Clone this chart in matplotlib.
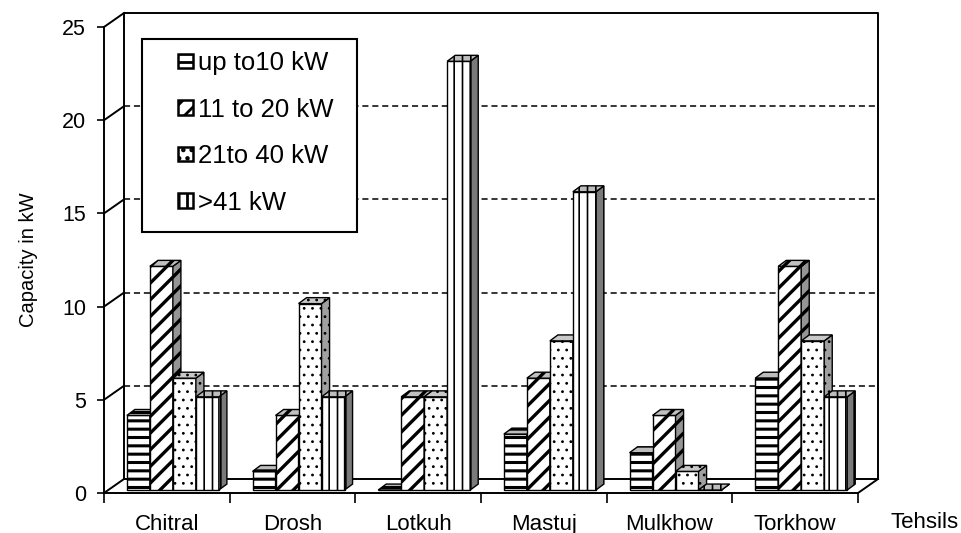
import matplotlib
matplotlib.use('Agg')
import matplotlib.pyplot as plt
from matplotlib.patches import Polygon, Patch, Rectangle

plt.rcParams['font.family'] = ['Liberation Sans', 'DejaVu Sans']
plt.rcParams['hatch.linewidth'] = 2.0

tehsils = ['Chitral', 'Drosh', 'Lotkuh', 'Mastuj', 'Mulkhow', 'Torkhow']
ranges = ['up to10 kW', '11 to 20 kW', '21to 40 kW', '>41 kW']
up_to_10 = [4, 1, 0, 3, 2, 6]
kw_11_20 = [12, 4, 5, 6, 4, 12]
kw_21_40 = [6, 10, 5, 8, 1, 8]
over_41 = [5, 5, 23, 16, 0, 5]
series = [up_to_10, kw_11_20, kw_21_40, over_41]
yticks = [0, 5, 10, 15, 20, 25]

hatches = ['--', '//', '..', '||']
hatch_lws = [2.2, 2.4, 0.8, 1.2]
side_cols = ['#858585', '#959595', '#a0a0a0', '#7a7a7a']
top_cols = ['#bdbdbd', '#c0c0c0', '#c8c8c8', '#bdbdbd']


def set_hlw(p, lw):
    # per-patch hatch width if this matplotlib has it
    if hasattr(p, 'set_hatch_linewidth'):
        p.set_hatch_linewidth(lw)


fig = plt.figure(figsize=(9.62, 5.33), dpi=100)
ax = fig.add_axes([104/962, 40/533, 754/962, 466/533])
ax.set_xlim(0, 6)
ax.set_ylim(0, 25)

n = len(tehsils)
DX, DY = 0.159, 0.75      # depth of the walls, in data units
BDX, BDY = 0.064, 0.32    # depth of a bar
FDX, FDY = 0.032, 0.16    # bar front, set back from the front plane
W = 0.183                 # bar width
G = 0.15                  # gap before the first bar of a group

# walls
k = dict(color='black', lw=1.4, clip_on=False, zorder=2)
ax.plot([DX, DX, n+DX, n+DX], [DY, 25+DY, 25+DY, DY], **k)
ax.plot([DX, n+DX], [DY, DY], **k)
ax.plot([n, n+DX], [0, DY], **k)
for v in yticks:
    ax.plot([0, DX], [v, v+DY], **k)
for v in yticks[1:-1]:
    ax.plot([DX, n+DX], [v+DY, v+DY], color='black', lw=1.1,
            ls=(0, (4, 2.5)), clip_on=False, zorder=1)

# bars
for i in range(n):
    for j, vals in enumerate(series):
        h = vals[i]
        x0 = i + G + j*W + FDX
        y0 = FDY
        z = 3 + i*10 + j*2
        bars = ax.bar(x0, h, W, bottom=y0, align='edge', color='white',
                      edgecolor='black', hatch=hatches[j], lw=1.0, zorder=z,
                      clip_on=False)
        set_hlw(bars[0], hatch_lws[j])
        side = Polygon([(x0+W, y0), (x0+W+BDX, y0+BDY),
                        (x0+W+BDX, y0+h+BDY), (x0+W, y0+h)],
                       facecolor=side_cols[j], edgecolor='black', lw=1.0,
                       hatch=hatches[j], zorder=z+1, clip_on=False)
        top = Polygon([(x0, y0+h), (x0+BDX, y0+h+BDY),
                       (x0+W+BDX, y0+h+BDY), (x0+W, y0+h)],
                      facecolor=top_cols[j], edgecolor='black', lw=1.0,
                      hatch=hatches[j], zorder=z+1, clip_on=False)
        ax.add_patch(side)
        ax.add_patch(top)
        set_hlw(side, hatch_lws[j])
        set_hlw(top, hatch_lws[j])

# axes
for s in ['top', 'right']:
    ax.spines[s].set_visible(False)
for s in ['left', 'bottom']:
    ax.spines[s].set_linewidth(1.4)
    ax.spines[s].set_zorder(2)
ax.set_yticks(yticks)
ax.tick_params(axis='y', length=5, width=1.2, labelsize=15.5, pad=8)
ax.set_xticks(range(n+1))
ax.set_xticklabels([])
ax.tick_params(axis='x', which='major', length=7, width=1.2)
ax.set_xticks([i + 0.5 for i in range(n)], minor=True)
ax.set_xticklabels(tehsils, minor=True)
ax.tick_params(axis='x', which='minor', length=0, labelsize=16, pad=15)
ax.set_ylabel('Capacity in kW', fontsize=14.5, labelpad=17)
fig.text(925/962, 1 - 522/533, 'Tehsils', ha='center', va='center', fontsize=16)

# legend: box drawn separately, entries placed inside it
box = Rectangle((142/962, 1 - 232/533), 215/962, 193/533, transform=fig.transFigure,
                facecolor='white', edgecolor='black', lw=1.5, zorder=90,
                clip_on=False)
ax.add_patch(box)
handles = []
for j in range(4):
    p = Patch(facecolor='white', edgecolor='black', hatch=hatches[j], lw=1.8)
    set_hlw(p, hatch_lws[j])
    handles.append(p)
leg = ax.legend(handles, ranges, loc='upper left',
                bbox_to_anchor=(178/962, 1 - 51/533), bbox_transform=fig.transFigure,
                borderaxespad=0, borderpad=0, frameon=False,
                fontsize=18.5, handlelength=0.58, handleheight=0.5, handletextpad=0.2,
                labelspacing=0.88)
leg.set_zorder(100)

fig.savefig('out.png', dpi=100)
